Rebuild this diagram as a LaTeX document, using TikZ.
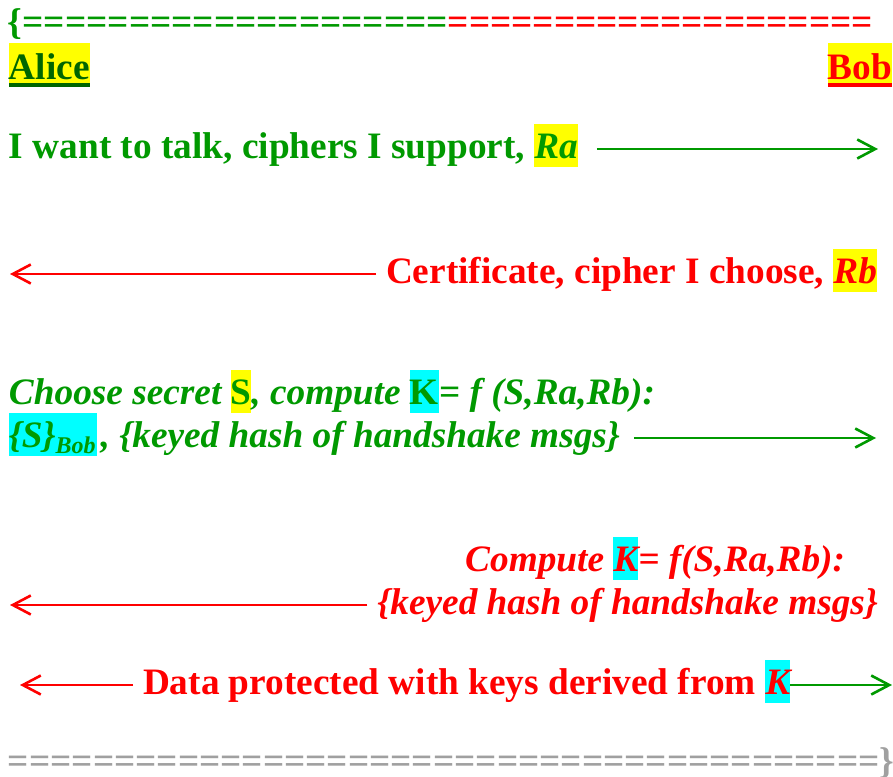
\documentclass[tikz,border=0pt]{standalone}
\usepackage{fontspec}
\setmainfont{Liberation Serif}
\usetikzlibrary{arrows.meta}
\definecolor{gtext}{RGB}{0,153,0}
\definecolor{dgreen}{RGB}{0,102,0}
\definecolor{rtext}{RGB}{255,0,0}
\definecolor{hlyellow}{RGB}{255,255,0}
\definecolor{hlcyan}{RGB}{0,255,255}
\definecolor{eqgray}{RGB}{160,160,160}
\newcommand\hlbox[2]{\begingroup\setlength{\fboxsep}{0pt}\colorbox{#1}{\rule[-9pt]{0pt}{43pt}#2}\endgroup}
\newcommand\bigfont{\fontsize{37.3}{42}\selectfont\bfseries}
\begin{document}
\begin{tikzpicture}[x=1pt,y=-1pt,
  txt/.style={inner sep=0pt, outer sep=0pt, font=\bigfont},
  itxt/.style={txt, font=\bigfont\itshape},
  actor/.style={txt, fill=hlyellow, text height=36pt, text depth=4pt},
  arr/.style={line width=2.2pt, -{Straight Barb[length=18pt,width=19pt,line width=2.6pt]}}
]
\useasboundingbox (0,0) rectangle (893,776);

% top rule
\node[txt, anchor=base west] (topline) at (8,35)
  {\color{gtext}\{====================\color{rtext}====================};

% actors
\node[actor, anchor=base west, text=dgreen] (alice) at (9,79) {Alice};
\fill[dgreen] (alice.south west) rectangle ([yshift=-4pt]alice.south east);
\node[actor, anchor=base east, text=rtext] (bob) at (892,79) {Bob};
\fill[rtext] (bob.south west) rectangle ([yshift=-4pt]bob.south east);

% message 1
\node[txt, anchor=base west, text=gtext] (m1) at (9,158)
  {I want to talk, ciphers I support, \hlbox{hlyellow}{\itshape Ra}};
\coordinate (e1) at (878,149);
\draw[arr, gtext] ([xshift=19pt,yshift=9pt]m1.base east) -- (e1);

% message 2
\node[txt, anchor=base east, text=rtext] (m2) at (877,283)
  {Certificate, cipher I choose, \hlbox{hlyellow}{\itshape Rb}};
\coordinate (e2) at (10,274);
\draw[arr, rtext] ([xshift=-10pt,yshift=9pt]m2.base west) -- (e2);

% message 3
\node[itxt, anchor=base west, text=gtext] (m3a) at (9,404)
  {Choose secret \hlbox{hlyellow}{\upshape S}, compute \hlbox{hlcyan}{\upshape K}= f (S,Ra,Rb):};
\node[itxt, anchor=base west, text=gtext] (m3b) at (9,447)
  {\hlbox{hlcyan}{\{S\}\raisebox{-6pt}{\fontsize{24}{24}\selectfont Bob}\kern1pt}\kern4pt, \{keyed hash of handshake msgs\}};
\coordinate (e3) at (876,438);
\draw[arr, gtext] ([xshift=14pt,yshift=9pt]m3b.base east) -- (e3);

% message 4
\node[itxt, anchor=base east, text=rtext] (m4a) at (845,571)
  {Compute \hlbox{hlcyan}{K}= f(S,Ra,Rb):};
\node[itxt, anchor=base east, text=rtext] (m4b) at (878,614)
  {\{keyed hash of handshake msgs\}};
\coordinate (e4) at (10,605);
\draw[arr, rtext] ([xshift=-10pt,yshift=9pt]m4b.base west) -- (e4);

% message 5
\node[txt, anchor=base west, text=rtext] (m5) at (143,694)
  {Data protected with keys derived from \hlbox{hlcyan}{\itshape K}};
\coordinate (l5) at (20,685);
\coordinate (r5) at (892,685);
\draw[arr, rtext] ([xshift=-10pt,yshift=9pt]m5.base west) -- (l5);
\draw[arr, gtext] ([yshift=9pt]m5.base east) -- (r5);

% bottom rule
\node[txt, anchor=base west, text=eqgray] (bottomline) at (8,773)
  {=========================================\}};
\end{tikzpicture}
\end{document}
